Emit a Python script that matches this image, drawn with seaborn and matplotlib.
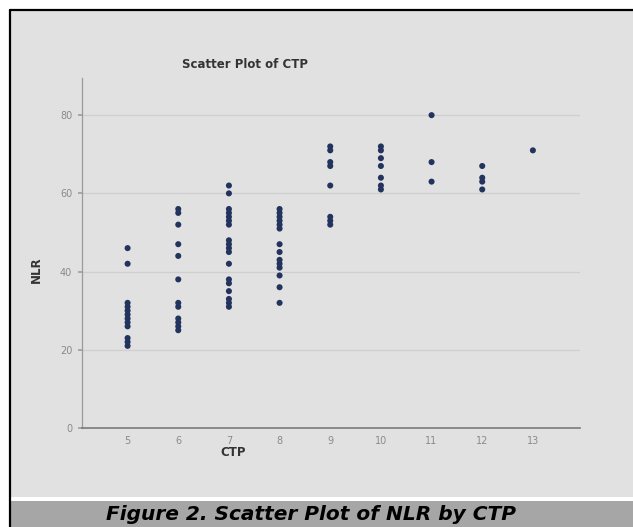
import pandas as pd
import seaborn as sns
import matplotlib.pyplot as plt
from matplotlib.patches import Rectangle
from matplotlib.lines import Line2D

# NLR values, one list per CTP score
nlr_ctp5 = [46, 42, 32, 31, 30, 29, 28, 27, 26, 23, 22, 21]
nlr_ctp6 = [56, 55, 52, 47, 44, 38, 32, 31, 28, 27, 26, 25]
nlr_ctp7 = [62, 60, 56, 55, 54, 53, 52, 48, 47, 46, 45, 42, 38, 37, 35, 33, 32, 31]
nlr_ctp8 = [56, 55, 54, 53, 52, 51, 47, 45, 43, 42, 41, 39, 36, 32]
nlr_ctp9 = [72, 71, 68, 67, 62, 54, 53, 52]
nlr_ctp10 = [72, 71, 69, 67, 64, 62, 61]
nlr_ctp11 = [80, 68, 63]
nlr_ctp12 = [67, 64, 63, 61]
nlr_ctp13 = [71]

ctp_levels = [5, 6, 7, 8, 9, 10, 11, 12, 13]
y_ticks = [0, 20, 40, 60, 80]

groups = [nlr_ctp5, nlr_ctp6, nlr_ctp7, nlr_ctp8, nlr_ctp9,
          nlr_ctp10, nlr_ctp11, nlr_ctp12, nlr_ctp13]
rows = []
for ctp, vals in zip(ctp_levels, groups):
    for v in vals:
        rows.append({"CTP": ctp, "NLR": v})
df = pd.DataFrame(rows)

sns.set_theme(style="white")
plt.rcParams['font.family'] = ['DejaVu Sans']

BG = "#e1e1e1"
fig = plt.figure(figsize=(6.33, 5.27), dpi=100)
fig.patch.set_facecolor("white")

# chart panel background, caption bar and the black frame lines
fig.add_artist(Rectangle((10 / 633, 30 / 527), 1.0, 1 - 41 / 527,
                         transform=fig.transFigure, facecolor=BG,
                         edgecolor="none", zorder=-2))
fig.add_artist(Rectangle((10 / 633, 0), 1.0, 26 / 527,
                         transform=fig.transFigure, facecolor="#a6a6a6",
                         edgecolor="none", zorder=-2))
fig.add_artist(Line2D([10 / 633, 10 / 633], [0, 1 - 10 / 527],
                      transform=fig.transFigure, color="black", lw=1.6, zorder=-1))
fig.add_artist(Line2D([10 / 633, 1], [1 - 10 / 527, 1 - 10 / 527],
                      transform=fig.transFigure, color="black", lw=1.6, zorder=-1))

ax = fig.add_axes([82 / 633, 99 / 527, 498 / 633, 350 / 527])
ax.set_facecolor(BG)
ax.set_zorder(1)

sns.scatterplot(data=df, x="CTP", y="NLR", ax=ax, color="#22335e",
                s=19, edgecolor="none", zorder=3)

ax.set_xlim(4.1, 13.93)
ax.set_ylim(0, 89.5)
ax.set_xticks(ctp_levels)
ax.set_yticks(y_ticks)
ax.set_xticklabels([str(c) for c in ctp_levels])
ax.set_yticklabels([str(t) for t in y_ticks])
for t in y_ticks[1:]:
    ax.axhline(t, color="#cfcfcf", linewidth=0.9, zorder=1)

ax.tick_params(axis="both", labelsize=7, colors="#8a8a8a", length=0, pad=6)
ax.tick_params(axis="y", length=3, color="#a0a0a0", left=True, pad=4)
for side in ["top", "right"]:
    ax.spines[side].set_visible(False)
ax.spines["left"].set_color("#9a9a9a")
ax.spines["bottom"].set_color("#7a7a7a")
ax.spines["left"].set_linewidth(0.9)
ax.spines["bottom"].set_linewidth(1.2)
ax.set_xlabel("")
ax.set_ylabel("")

fig.text(245 / 633, 1 - 65 / 527, "Scatter Plot of CTP", ha="center",
         va="center", fontsize=8.5, fontweight="bold", color="#333333")
fig.text(233 / 633, 1 - 453 / 527, "CTP", ha="center", va="center",
         fontsize=8.5, fontweight="bold", color="#333333")
fig.text(36 / 633, 1 - 270 / 527, "NLR", ha="center", va="center",
         rotation=90, fontsize=8.5, fontweight="bold", color="#333333")
fig.text(311 / 633, 12 / 527, "Figure 2. Scatter Plot of NLR by CTP",
         ha="center", va="center", fontsize=14.5, fontweight="bold",
         fontstyle="italic", color="black")

fig.savefig("out.png", dpi=100, facecolor=fig.get_facecolor())
